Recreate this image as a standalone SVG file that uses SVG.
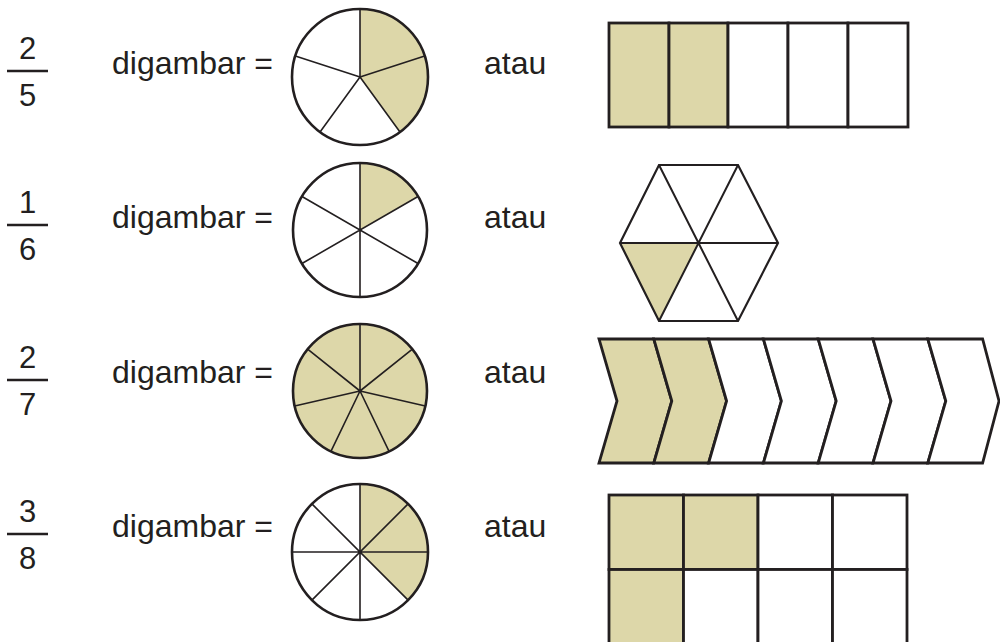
<svg xmlns="http://www.w3.org/2000/svg" width="1000" height="642" viewBox="0 0 1000 642">
<style>
text{font-family:"Liberation Sans",Arial,sans-serif;font-size:32px;fill:#231f20}
.num{text-anchor:middle;font-size:31px}
.bar{stroke:#231f20;stroke-width:2.5}
.sh{fill:#ddd7a9}
.wh{fill:#fff}
.rim{fill:none;stroke:#231f20;stroke-width:2.6}
.ln{fill:none;stroke:#231f20;stroke-width:1.6}
.box{stroke:#231f20;stroke-width:2.8}
.chev{stroke:#231f20;stroke-width:2.8;stroke-linejoin:miter}
</style>
<rect width="1000" height="642" fill="#fff"/>

<g id="row1-label">
<text class="num" x="27.5" y="59">2</text>
<line class="bar" x1="7" y1="71" x2="48" y2="71"/>
<text class="num" x="27.5" y="106">5</text>
<text x="112" y="74">digambar =</text>
<text x="484" y="74">atau</text>
</g>
<g id="row2-label">
<text class="num" x="27.5" y="213">1</text>
<line class="bar" x1="7" y1="225" x2="48" y2="225"/>
<text class="num" x="27.5" y="260">6</text>
<text x="112" y="228">digambar =</text>
<text x="484" y="228">atau</text>
</g>
<g id="row3-label">
<text class="num" x="27.5" y="368">2</text>
<line class="bar" x1="7" y1="380" x2="48" y2="380"/>
<text class="num" x="27.5" y="415">7</text>
<text x="112" y="383">digambar =</text>
<text x="484" y="383">atau</text>
</g>
<g id="row4-label">
<text class="num" x="27.5" y="522">3</text>
<line class="bar" x1="7" y1="534" x2="48" y2="534"/>
<text class="num" x="27.5" y="569">8</text>
<text x="112" y="537">digambar =</text>
<text x="484" y="537">atau</text>
</g>

<g id="circle-5">
<circle cx="360" cy="77" r="68" class="wh"/>
<path class="sh" d="M360,77 L360,9 A68,68 0 0 1 399.97,132.01 Z"/>
<path class="ln" d="M360,77 L360,9 M360,77 L424.67,55.99 M360,77 L399.97,132.01 M360,77 L320.03,132.01 M360,77 L295.33,55.99"/>
<circle cx="360" cy="77" r="68" class="rim"/>
</g>

<g id="circle-6">
<circle cx="360" cy="230" r="67" class="wh"/>
<path class="sh" d="M360,230 L360,163 A67,67 0 0 1 418.02,196.5 Z"/>
<path class="ln" d="M360,163 L360,297 M301.98,196.5 L418.02,263.5 M301.98,263.5 L418.02,196.5"/>
<circle cx="360" cy="230" r="67" class="rim"/>
</g>

<g id="circle-7">
<circle cx="360" cy="391" r="67" class="sh"/>
<path class="ln" d="M360,391 L360,324 M360,391 L412.38,349.22 M360,391 L425.32,405.91 M360,391 L389.07,451.37 M360,391 L330.93,451.37 M360,391 L294.68,405.91 M360,391 L307.62,349.22"/>
<circle cx="360" cy="391" r="67" class="rim"/>
</g>

<g id="circle-8">
<circle cx="360" cy="552" r="68" class="wh"/>
<path class="sh" d="M360,552 L360,484 A68,68 0 0 1 408.08,600.08 Z"/>
<path class="ln" d="M360,484 L360,620 M292,552 L428,552 M311.92,503.92 L408.08,600.08 M311.92,600.08 L408.08,503.92"/>
<circle cx="360" cy="552" r="68" class="rim"/>
</g>

<g id="rect-5">
<rect class="box sh" x="609" y="23" width="60" height="104"/>
<rect class="box sh" x="669" y="23" width="59" height="104"/>
<rect class="box wh" x="728" y="23" width="60" height="104"/>
<rect class="box wh" x="788" y="23" width="60" height="104"/>
<rect class="box wh" x="848" y="23" width="60" height="104"/>
</g>

<g id="hexagon-6">
<polygon class="wh" points="659,165 738,165 778,243 738,321 659,321 620,243"/>
<polygon class="sh" points="620,243 698.5,243 659,321"/>
<path class="ln" d="M659,165 L738,321 M738,165 L659,321 M620,243 L778,243" style="stroke-width:2"/>
<polygon points="659,165 738,165 778,243 738,321 659,321 620,243" fill="none" stroke="#231f20" stroke-width="2.2"/>
</g>

<g id="chevrons-7">
<polygon class="chev sh" points="599,339 653.8,339 671.8,401 653.8,463 599,463 617,401"/>
<polygon class="chev sh" points="653.8,339 708.6,339 726.6,401 708.6,463 653.8,463 671.8,401"/>
<polygon class="chev wh" points="708.6,339 763.4,339 781.4,401 763.4,463 708.6,463 726.6,401"/>
<polygon class="chev wh" points="763.4,339 818.2,339 836.2,401 818.2,463 763.4,463 781.4,401"/>
<polygon class="chev wh" points="818.2,339 873,339 891,401 873,463 818.2,463 836.2,401"/>
<polygon class="chev wh" points="873,339 927.8,339 945.8,401 927.8,463 873,463 891,401"/>
<polygon class="chev wh" points="927.8,339 982.6,339 999,401 982.6,463 927.8,463 945.8,401"/>
</g>

<g id="grid-8">
<rect class="box sh" x="609" y="495" width="74.5" height="74.5"/>
<rect class="box sh" x="683.5" y="495" width="74.5" height="74.5"/>
<rect class="box wh" x="758" y="495" width="74.5" height="74.5"/>
<rect class="box wh" x="832.5" y="495" width="74.5" height="74.5"/>
<rect class="box sh" x="609" y="569.5" width="74.5" height="74.5"/>
<rect class="box wh" x="683.5" y="569.5" width="74.5" height="74.5"/>
<rect class="box wh" x="758" y="569.5" width="74.5" height="74.5"/>
<rect class="box wh" x="832.5" y="569.5" width="74.5" height="74.5"/>
</g>
</svg>
